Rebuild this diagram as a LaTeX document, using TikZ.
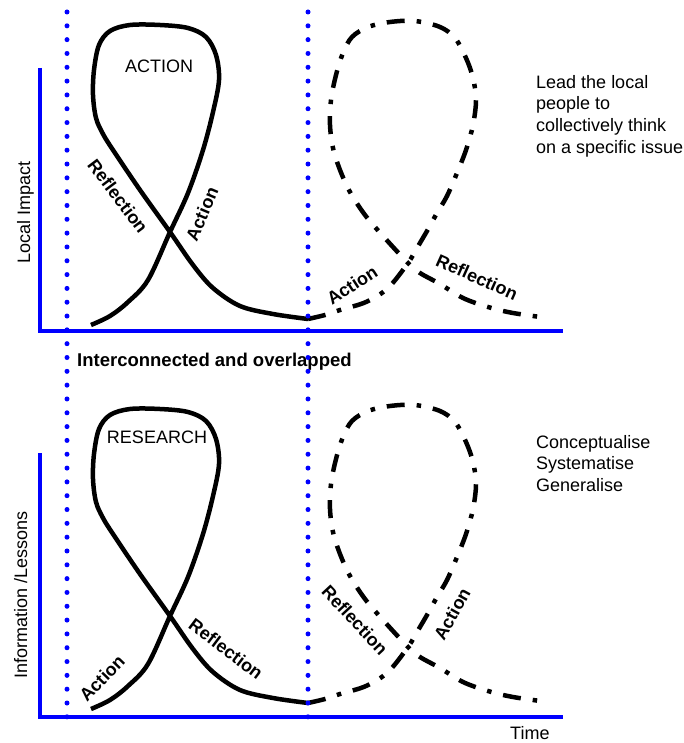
\documentclass[tikz,border=0pt]{standalone}
\usepackage{fontspec}
\setmainfont{Liberation Sans}
\begin{document}
\begin{tikzpicture}[x=1pt,y=-1pt,
  axis/.style={blue, line width=4.5pt, line join=miter},
  guide/.style={blue, line width=5pt, line cap=round, dash pattern=on 0pt off 13.82pt},
  ribbon/.style={black, line width=4.5pt, line join=round},
  ribbondash/.style={ribbon, dash pattern=on 18pt off 12pt on 4.5pt off 12pt},
  tag/.style={inner sep=0pt, font=\fontsize{18}{21}\selectfont\bfseries},
  note/.style={inner sep=0pt, font=\fontsize{18}{21.7}\selectfont, align=left},
]
\useasboundingbox (0,0) rectangle (684,743);

% loop shapes, shared by both panels
\newcommand\solidribbon{plot[smooth, tension=0.55] coordinates {
  (91,325) (110,316) (128,302) (148,280) (170,232) (188,193) (203,150)
  (213,112) (219,80) (216,55) (206,37) (188,28) (160,25) (130,25)
  (110,31) (99,45) (94,70) (93,95) (96,118) (103,134) (113,150)
  (140,190) (170,232) (193,265) (213,288) (240,306) (273,314) (308,319)}}
\newcommand\dashribbon{plot[smooth, tension=0.55] coordinates {
  (308,319) (325,315) (340,310) (366,302) (388,288) (408,263)
  (417,248) (427,231) (437,213) (447,196) (457,173) (466,150) (473,125)
  (476,100) (473,78) (466,58) (455,38) (440,27) (415,21) (390,22)
  (368,27) (352,37) (343,53) (336,75) (331,100) (330,125) (333,148)
  (340,170) (350,192) (365,215) (383,236) (408,263)
  (420,273) (440,284) (463,298) (488,307) (513,313) (548,318)}}

% axes
\draw[axis] (40,68) -- (40,331) -- (563,331);
\draw[axis] (40,453) -- (40,717) -- (563,717);

% upper panel loops
\draw[ribbon] \solidribbon;
\draw[ribbondash] \dashribbon;
% lower panel loops
\begin{scope}[yshift=-384pt]
  \draw[ribbon] \solidribbon;
  \draw[ribbondash] \dashribbon;
\end{scope}

% axis titles
\node[note, rotate=90, anchor=base] (ytop) at (30,212) {Local Impact};
\node[note, rotate=90, anchor=base] (ybot) at (27,595) {Information /Lessons};
\node[note, anchor=base west] (time) at (510,739) {Time};

% loop titles
\node[note, anchor=base] (action) at (159,73) {ACTION};
\node[note, anchor=base] (research) at (157,443) {RESEARCH};

% leg labels, upper panel
\node[tag, rotate=-53] (reflA) at (118,196) {Reflection};
\node[tag, rotate=67] (actA) at (202,214) {Action};
\node[tag, rotate=33] (actB) at (352,285) {Action};
\node[tag, rotate=-24] (reflB) at (477,277) {Reflection};

% leg labels, lower panel
\node[tag, rotate=46] (actC) at (102,678) {Action};
\node[tag, rotate=-37] (reflC) at (226,649) {Reflection};
\node[tag, rotate=-47] (reflD) at (355,620) {Reflection};
\node[tag, rotate=61] (actD) at (452,614) {Action};

% captions
\node[tag, anchor=base west, font=\fontsize{18.5}{21}\selectfont\bfseries] (overlap) at (77,366) {Interconnected and overlapped};
\node[note, anchor=north west] (aim) at (536,75) {Lead the local\\people to\\collectively think\\on a specific issue};
\node[note, anchor=north west] (outcome) at (536,435) {Conceptualise\\Systematise\\Generalise};

% dotted phase guides
\draw[guide] (67,12) -- (67,717);
\draw[guide] (308,12) -- (308,717);
\end{tikzpicture}
\end{document}
